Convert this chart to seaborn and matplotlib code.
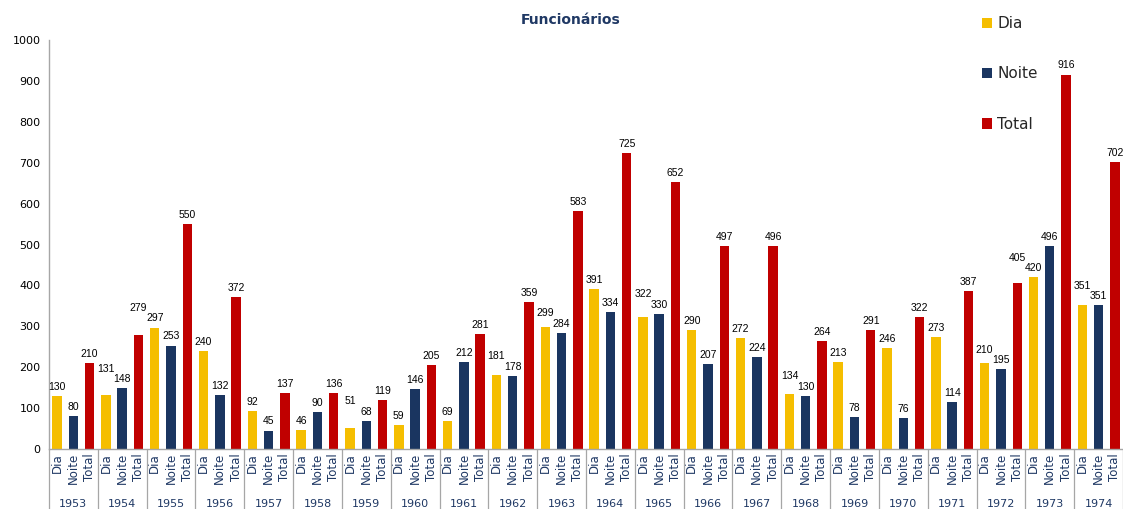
import pandas as pd
import numpy as np
import matplotlib.pyplot as plt
import seaborn as sns
from matplotlib.patches import Patch

# Data
anos = [1953, 1954, 1955, 1956, 1957, 1958, 1959, 1960, 1961, 1962, 1963,
        1964, 1965, 1966, 1967, 1968, 1969, 1970, 1971, 1972, 1973, 1974]
dia = [130, 131, 297, 240, 92, 46, 51, 59, 69, 181, 299,
       391, 322, 290, 272, 134, 213, 246, 273, 210, 420, 351]
noite = [80, 148, 253, 132, 45, 90, 68, 146, 212, 178, 284,
         334, 330, 207, 224, 130, 78, 76, 114, 195, 496, 351]
total = [210, 279, 550, 372, 137, 136, 119, 205, 281, 359, 583,
         725, 652, 497, 496, 264, 291, 322, 387, 405, 916, 702]
tipos = ['Dia', 'Noite', 'Total']
cores = {'Dia': '#F5BE00', 'Noite': '#1A3560', 'Total': '#C00000'}
azul_texto = '#1F3864'

rows = []
for i, ano in enumerate(anos):
    for tipo, serie in zip(tipos, [dia, noite, total]):
        rows.append({'ano': ano, 'tipo': tipo, 'cat': f'{ano}-{tipo}', 'valor': serie[i]})
df = pd.DataFrame(rows)
ordem = list(df['cat'])

sns.set_theme(style='white')
plt.rcParams['font.family'] = ['DejaVu Sans']

fig = plt.figure(figsize=(11.23, 5.09), dpi=100)
ax = fig.add_axes([0.0436, 0.118, 0.9564, 0.803])

sns.barplot(data=df, x='cat', y='valor', hue='tipo', order=ordem, palette=cores,
            dodge=False, width=0.58, legend=False, ax=ax, edgecolor='none', saturation=1)

# value labels: lift a label when its right neighbour sits at about the same height
vals = df['valor'].to_numpy()
ylab = vals + 10.0
gap = 26
for i in range(len(ylab) - 2, -1, -1):
    if abs(ylab[i] - ylab[i + 1]) < gap:
        ylab[i] = max(ylab[i], ylab[i + 1] + gap)
for idx, v in enumerate(vals):
    ax.text(idx, ylab[idx], str(v), ha='center', va='bottom',
            fontsize=7.5, color='black', family=['Liberation Sans', 'DejaVu Sans'])

ax.set_xlim(-0.5, len(ordem) - 0.5)
ax.set_ylim(0, 1000)
ax.set_yticks(np.arange(0, 1001, 100))
ax.tick_params(axis='y', labelsize=8, colors='black', length=0, pad=6)
ax.set_xticks(range(len(ordem)))
ax.set_xticklabels(list(df['tipo']), rotation=90, fontsize=8.5, color=azul_texto)
ax.tick_params(axis='x', length=0, pad=3)
ax.set_xlabel('')
ax.set_ylabel('')

for s in ['top', 'right']:
    ax.spines[s].set_visible(False)
for s in ['left', 'bottom']:
    ax.spines[s].set_color('#A6A6A6')
    ax.spines[s].set_linewidth(1)

# group separators and year labels
trans = ax.get_xaxis_transform()
for g in range(len(anos) + 1):
    xb = g * 3 - 0.5
    ax.plot([xb, xb], [0, -0.15], transform=trans, color='#A6A6A6', lw=0.9, clip_on=False)
for g, ano in enumerate(anos):
    ax.text(g * 3 + 1, -0.135, str(ano), transform=trans, ha='center', va='center',
            fontsize=8, color=azul_texto)

fig.text(0.508, 0.96, 'Funcionários', ha='center', va='center', fontsize=10,
         fontweight='bold', color=azul_texto)

handles = [Patch(facecolor=cores[t], edgecolor='none', label=t) for t in tipos]
fig.legend(handles=handles, loc='upper left', bbox_to_anchor=(0.862, 0.995),
           frameon=False, fontsize=11, handlelength=0.7, handleheight=0.7,
           handletextpad=0.3, labelspacing=2.3)

fig.savefig('out.png', dpi=100)
